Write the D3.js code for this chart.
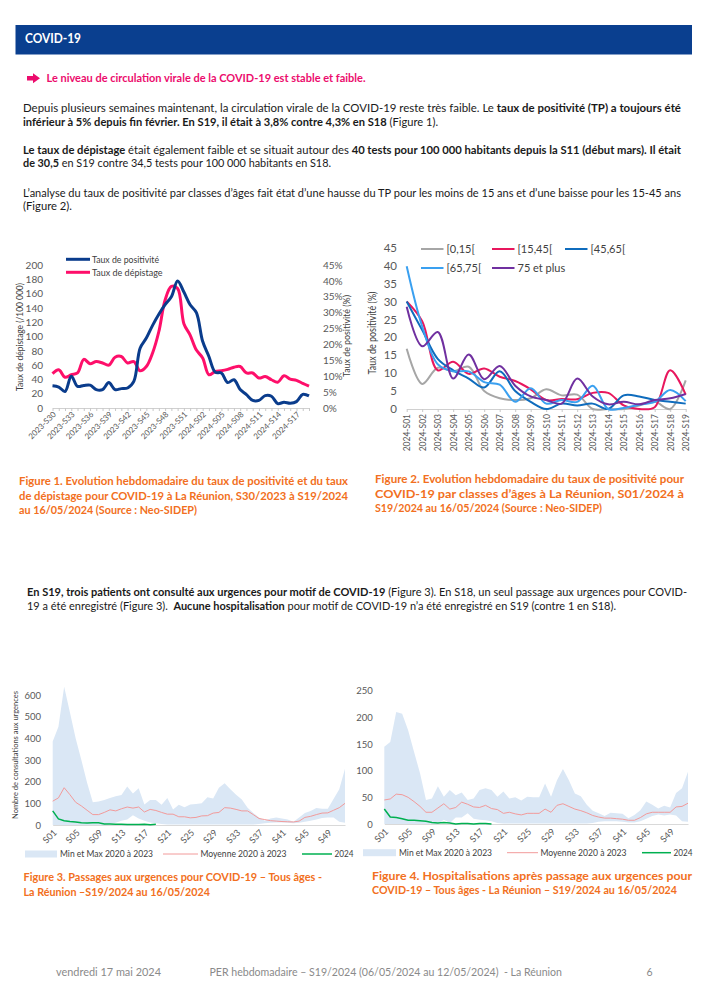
<!DOCTYPE html>
<html>
<head>
<meta charset="utf-8">
<script src="https://cdn.jsdelivr.net/npm/d3@7"></script>
<style>
body { margin: 0; background: #fff; }
svg { display: block; font-family: Lato, "Open Sans", sans-serif; }
</style>
</head>
<body>
<script>
var W = 706, H = 999;

// Figure 1 : taux de positivité (%) et taux de dépistage (/100 000)
var weeks1 = ["2023-S30","2023-S31","2023-S32","2023-S33","2023-S34","2023-S35","2023-S36","2023-S37","2023-S38","2023-S39",
  "2023-S40","2023-S41","2023-S42","2023-S43","2023-S44","2023-S45","2023-S46","2023-S47","2023-S48","2023-S49",
  "2023-S50","2023-S51","2023-S52","2024-S01","2024-S02","2024-S03","2024-S04","2024-S05","2024-S06","2024-S07",
  "2024-S08","2024-S09","2024-S10","2024-S11","2024-S12","2024-S13","2024-S14","2024-S15","2024-S16","2024-S17",
  "2024-S18","2024-S19"];
var tauxPositivite = [7.0,6.6,5.2,10.0,6.8,7.1,7.2,5.8,5.8,8.0,5.8,6.1,6.3,8.4,18.8,22,26,29.5,32.5,35,40,36.5,32.5,
  30,21,16.2,11.3,11,8,8.9,5.8,4.2,2.4,2.4,3.9,3.7,1.4,1.8,1.5,2.0,4.3,3.8];
var tauxDepistage = [48,53.5,43,46.5,49,68,62,65,63,60,71,72,63,65,52,58,77,107,151,170,167,118,102,
  81,70,46.5,51,52,54,57,58,49,49,42,44,39.5,36,45,40.5,38.6,34.5,30.5];
var depTicks = [0,20,40,60,80,100,120,140,160,180,200];
var posTicks = [0,5,10,15,20,25,30,35,40,45];

// Figure 2 : taux de positivité par classe d'âge
var weeks2 = ["2024-S01","2024-S02","2024-S03","2024-S04","2024-S05","2024-S06","2024-S07","2024-S08","2024-S09","2024-S10",
  "2024-S11","2024-S12","2024-S13","2024-S14","2024-S15","2024-S16","2024-S17","2024-S18","2024-S19"];
var ageGroups = ["[0,15[","[15,45[","[45,65[","[65,75[","75 et plus"];
var tp0_15 = [16.8,7,11.5,10.5,11.8,5,3,2.5,3,5.5,3.8,4,0,0,0,1,2,0,8];
var tp15_45 = [30,24.5,10.8,13.2,9.8,11.3,9,7.8,5.5,2.5,2.8,2.7,4.5,4.5,1,0,0.5,10.8,4];
var tp45_65 = [30,22,14,10.8,8.5,6,10.5,5,2,0,1.5,1,1.5,0,3.8,3.5,2.5,2,1.5];
var tp65_75 = [39.8,23,12.5,10.5,10.5,7.5,6.8,2,5.8,1.5,2.5,2,6.5,0,0.3,1.2,2,5.3,2.2];
var tp75plus = [28.5,17.5,21.5,8.5,15.2,8.3,12,6.5,3.5,2.5,1.5,8.5,3.5,1.3,2,1.3,2.5,3,4.2];
var ageTicks = [0,5,10,15,20,25,30,35,40,45];

// Figures 3 et 4 : passages et hospitalisations
var weeksYear = ["S01","S02","S03","S04","S05","S06","S07","S08","S09","S10","S11","S12","S13","S14","S15","S16","S17","S18",
  "S19","S20","S21","S22","S23","S24","S25","S26","S27","S28","S29","S30","S31","S32","S33","S34","S35","S36","S37","S38",
  "S39","S40","S41","S42","S43","S44","S45","S46","S47","S48","S49","S50","S51","S52"];
var urgMax = [385,454,638,520,400,300,195,105,108,115,125,133,138,178,145,170,95,115,115,93,
  125,72,93,82,95,97,100,128,122,172,193,165,140,118,80,55,35,20,30,35,30,25,15,35,55,65,78,75,75,120,165,260];
var urgMin = [0,0,0,0,0,0,0,0,0,0,5,10,20,25,45,30,20,12,8,5,
  2,2,2,2,2,2,2,2,2,2,2,2,2,2,2,2,5,8,10,12,12,10,8,10,15,20,25,32,35,35,15,10];
var urgMoy = [110,125,172,140,105,88,68,48,48,58,70,65,75,83,78,83,60,72,67,58,
  50,50,38,38,33,35,42,43,55,58,80,78,72,65,65,48,30,25,20,18,16,15,14,18,35,40,48,55,56,68,80,100];
var urg2024 = [65,28,20,16,14,10,9,10,10,5,5,3,3,2,2,2,3,1,3];
var urgTicks = [0,100,200,300,400,500,600];

var hospMax = [145,154,210,207,176,135,95,45,48,71,51,64,54,59,45,48,64,67,64,51,
  61,48,50,44,51,50,50,76,51,82,103,82,57,52,36,25,20,15,21,20,19,11,17,26,42,36,29,34,31,58,67,98];
var hospMin = [0,0,0,0,0,0,0,0,0,0,8,2,12,12,20,10,8,7,5,2,
  1,1,1,1,1,1,1,1,1,1,1,1,1,1,1,2,4,5,5,5,4,3,3,5,10,15,18,16,18,16,5,4];
var hospMoy = [45,47,56,55,50,42,33,22,22,30,38,28,31,41,37,32,31,35,29,27,
  20,22,19,17,20,20,20,28,22,35,38,33,28,25,21,16,13,11,11,10,9,7,7,12,19,22,22,22,22,32,33,39];
var hosp2024 = [28,13,12,10,7,7,6,5,3,2,3,2,0,1,1,0,1,1,0];
var hospTicks = [0,50,100,150,200,250];

var svg = d3.select("body").append("svg").attr("width", W).attr("height", H);
svg.append("rect").attr("width", W).attr("height", H).attr("fill", "#fff");

var ink = "#1a1a1a", orange = "#f26f21", axisGrey = "#595959";

function addLine(x, y, parts, o) {
  if (typeof parts === "string") parts = [[parts, !!o.bold]];
  var t = svg.append("text").attr("x", x).attr("y", y)
    .attr("font-size", o.size || 10.5).attr("fill", o.fill || ink)
    .style("white-space", "pre");
  if (o.width) t.attr("textLength", o.width).attr("lengthAdjust", "spacingAndGlyphs");
  parts.forEach(function(p) {
    t.append("tspan").attr("font-weight", p[1] ? "bold" : "normal").text(p[0]);
  });
  return t;
}

function vText(x, y, txt, size, len) {
  svg.append("text").attr("transform", "translate(" + x + "," + y + ") rotate(-90)")
    .attr("text-anchor", "middle").attr("font-size", size).attr("fill", "#404040")
    .attr("textLength", len).attr("lengthAdjust", "spacingAndGlyphs").text(txt);
}

// ---- header and texts
svg.append("rect").attr("x", 15.5).attr("y", 25).attr("width", 676.5).attr("height", 29.5).attr("fill", "#0a3f8f");
addLine(25, 42.5, "COVID-19", {bold: true, size: 12.5, fill: "#fff", width: 56});

svg.append("path").attr("d", "M27,76 H33 V73.3 L40,78.3 L33,83.3 V80.6 H27 Z").attr("fill", "#ec0c6d");
addLine(46.5, 82, "Le niveau de circulation virale de la COVID-19 est stable et faible.", {bold: true, fill: "#ec0c6d", width: 319});

addLine(23, 112, [["Depuis plusieurs semaines maintenant, la circulation virale de la COVID-19 reste très faible. Le ", false],
  ["taux de positivité (TP) a toujours été", true]], {width: 658});
addLine(23, 125.5, [["inférieur à 5% depuis fin février. En S19, il était à 3,8% contre 4,3% en S18", true],
  [" (Figure 1).", false]], {width: 415});
addLine(23, 153.5, [["Le taux de dépistage", true], [" était également faible et se situait autour des ", false],
  ["40 tests pour 100 000 habitants depuis la S11 (début mars). Il était", true]], {width: 658});
addLine(23, 167, [["de 30,5", true], [" en S19 contre 34,5 tests pour 100 000 habitants en S18.", false]], {width: 308});
addLine(23, 196.5, "L’analyse du taux de positivité par classes d’âges fait état d’une hausse du TP pour les moins de 15 ans et d’une baisse pour les 15-45 ans", {width: 658});
addLine(23, 210, "(Figure 2).", {width: 49});

var capO = {bold: true, fill: orange, size: 10.5};
addLine(19, 485, "Figure 1. Evolution hebdomadaire du taux de positivité et du taux", Object.assign({width: 329}, capO));
addLine(19, 499.5, "de dépistage pour COVID-19 à La Réunion, S30/2023 à S19/2024", Object.assign({width: 329}, capO));
addLine(19, 514, "au 16/05/2024 (Source : Neo-SIDEP)", Object.assign({width: 178}, capO));

addLine(375, 483, "Figure 2. Evolution hebdomadaire du taux de positivité pour", Object.assign({width: 309}, capO));
addLine(375, 497.5, "COVID-19 par classes d’âges à La Réunion, S01/2024 à", Object.assign({width: 309}, capO));
addLine(375, 512, "S19/2024 au 16/05/2024 (Source : Neo-SIDEP)", Object.assign({width: 227}, capO));

addLine(27, 596, [["En S19, trois patients ont consulté aux urgences pour motif de COVID-19", true],
  [" (Figure 3). En S18, un seul passage aux urgences pour COVID-", false]], {width: 660});
addLine(27, 609.5, [["19 a été enregistré (Figure 3).  ", false], ["Aucune hospitalisation", true],
  [" pour motif de COVID-19 n’a été enregistré en S19 (contre 1 en S18).", false]], {width: 589});

addLine(23.5, 880.5, "Figure 3. Passages aux urgences pour COVID-19 – Tous âges -", Object.assign({width: 298.5}, capO));
addLine(23.5, 895.5, "La Réunion –S19/2024 au 16/05/2024", Object.assign({width: 186.5}, capO));
addLine(372, 879.5, "Figure 4. Hospitalisations après passage aux urgences pour", Object.assign({width: 320}, capO));
addLine(372, 894, "COVID-19 – Tous âges - La Réunion – S19/2024 au 16/05/2024", Object.assign({width: 305}, capO));

addLine(56, 976, "vendredi 17 mai 2024", {fill: "#8a8a8a", size: 10.5, width: 105});
addLine(209.5, 976, "PER hebdomadaire – S19/2024 (06/05/2024 au 12/05/2024)  - La Réunion", {fill: "#8a8a8a", size: 10.5, width: 352.5});
addLine(646.5, 976, "6", {fill: "#8a8a8a", size: 10.5});

function styleAxis(g, size) {
  g.attr("font-family", "Lato, sans-serif").attr("font-size", size);
  g.selectAll("text").attr("fill", axisGrey);
  g.selectAll(".tick line").attr("stroke", "#c8c8c8");
  g.select(".domain").attr("stroke", "#d0d0d0");
}

// ---- Figure 1
var x1 = d3.scalePoint().domain(weeks1).range([52.5, 309]);
var yDep = d3.scaleLinear().domain([0, 200]).range([408, 265]);
var yPos = d3.scaleLinear().domain([0, 45]).range([408, 265]);

var ax1 = svg.append("g").attr("transform", "translate(0,408)")
  .call(d3.axisBottom(x1).tickSize(3).tickSizeOuter(0).tickFormat(function(d, i) { return i % 3 === 0 ? d : ""; }));
styleAxis(ax1, 8);
ax1.selectAll("text").attr("x", 0).attr("y", 0).attr("dy", "0.35em")
  .attr("transform", "translate(1.5,5) rotate(-45)").style("text-anchor", "end");

var ayL1 = svg.append("g").attr("transform", "translate(46,0)")
  .call(d3.axisLeft(yDep).tickValues(depTicks).tickSize(0).tickPadding(3));
styleAxis(ayL1, 10); ayL1.select(".domain").remove();
var ayR1 = svg.append("g").attr("transform", "translate(320,0)")
  .call(d3.axisRight(yPos).tickValues(posTicks).tickSize(0).tickPadding(3).tickFormat(function(d) { return d + "%"; }));
styleAxis(ayR1, 10); ayR1.select(".domain").remove();

vText(23, 337, "Taux de dépistage (/100 000)", 9.5, 108);
vText(349.5, 336, "Taux de positivité (%)", 9.5, 82);

var smooth = d3.curveCatmullRom.alpha(0.5);
svg.append("path").datum(tauxDepistage).attr("fill", "none").attr("stroke", "#fe0f6a").attr("stroke-width", 3)
  .attr("d", d3.line().x(function(d, i) { return x1(weeks1[i]); }).y(function(d) { return yDep(d); }).curve(smooth));
svg.append("path").datum(tauxPositivite).attr("fill", "none").attr("stroke", "#0a3c8c").attr("stroke-width", 3)
  .attr("d", d3.line().x(function(d, i) { return x1(weeks1[i]); }).y(function(d) { return yPos(d); }).curve(smooth));

[["Taux de positivité", "#0a3c8c", 259.3, 67], ["Taux de dépistage", "#fe0f6a", 272.3, 70.5]].forEach(function(l) {
  svg.append("line").attr("x1", 66).attr("x2", 90).attr("y1", l[2]).attr("y2", l[2]).attr("stroke", l[1]).attr("stroke-width", 3);
  addLine(92, l[2] + 3.2, l[0], {size: 9.5, fill: "#404040", width: l[3]});
});

// ---- Figure 2
var x2 = d3.scalePoint().domain(weeks2).range([406.7, 685.7]);
var y2 = d3.scaleLinear().domain([0, 45]).range([409, 247.7]);
var ax2 = svg.append("g").attr("transform", "translate(0,409)")
  .call(d3.axisBottom(x2).tickSize(3).tickSizeOuter(0));
styleAxis(ax2, 8.5);
ax2.selectAll("text").attr("x", 0).attr("y", 0).attr("dy", "0.35em")
  .attr("transform", "translate(0,5) rotate(-90)").style("text-anchor", "end");
var ay2 = svg.append("g").attr("transform", "translate(400,0)")
  .call(d3.axisLeft(y2).tickValues(ageTicks).tickSize(0).tickPadding(3));
styleAxis(ay2, 11.5); ay2.select(".domain").remove();
vText(376, 333, "Taux de positivité (%)", 10.5, 83);

var ageSeries = [tp0_15, tp15_45, tp45_65, tp65_75, tp75plus];
var ageColors = ["#a6a6a6", "#e8175d", "#0f6cbd", "#3aa0f0", "#7030a0"];
var line2 = d3.line().x(function(d, i) { return x2(weeks2[i]); }).y(function(d) { return y2(d); }).curve(smooth);
ageSeries.forEach(function(s, k) {
  svg.append("path").datum(s).attr("fill", "none").attr("stroke", ageColors[k]).attr("stroke-width", 2).attr("d", line2);
});
var legPos2 = [[421, 249], [492, 249], [565, 249], [421, 268], [492, 268]];
ageGroups.forEach(function(name, k) {
  var p = legPos2[k];
  svg.append("line").attr("x1", p[0]).attr("x2", p[0] + 22.5).attr("y1", p[1]).attr("y2", p[1])
    .attr("stroke", ageColors[k]).attr("stroke-width", 2);
  addLine(p[0] + 25.5, p[1] + 3.8, name, {size: 11, fill: "#404040"});
});

// ---- Figures 3 and 4
function drawUrg(o) {
  var x = d3.scalePoint().domain(weeksYear).range(o.xr);
  var y = d3.scaleLinear().domain(o.yd).range(o.yr);
  svg.append("path").datum(weeksYear).attr("fill", "#dae7f5")
    .attr("d", d3.area().x(function(d) { return x(d); })
      .y0(function(d, i) { return y(o.min[i]); }).y1(function(d, i) { return y(o.max[i]); }));
  var ax = svg.append("g").attr("transform", "translate(0," + o.yr[0] + ")")
    .call(d3.axisBottom(x).tickSize(0).tickSizeOuter(0).tickFormat(function(d, i) { return i % 4 === 0 ? d : ""; }));
  styleAxis(ax, 9);
  ax.select(".domain").attr("stroke", "#d9d9d9");
  ax.selectAll("text").attr("x", 0).attr("y", 0).attr("dy", "0.35em")
    .attr("transform", "translate(2,6) rotate(-45)").style("text-anchor", "end");
  var ay = svg.append("g").attr("transform", "translate(" + (o.labelX + 3) + ",0)")
    .call(d3.axisLeft(y).tickValues(o.ticks).tickSize(0).tickPadding(3));
  styleAxis(ay, 9.5); ay.select(".domain").remove();

  var ln = d3.line().x(function(d, i) { return x(weeksYear[i]); }).y(function(d) { return y(d); });
  svg.append("path").datum(o.moy).attr("fill", "none").attr("stroke", "#f29a9a").attr("stroke-width", 1).attr("d", ln);
  svg.append("path").datum(o.cur).attr("fill", "none").attr("stroke", "#00b050").attr("stroke-width", 1.5).attr("d", ln);

  var L = o.leg;
  svg.append("rect").attr("x", L.band[0]).attr("y", L.y - 3.5).attr("width", L.band[1] - L.band[0]).attr("height", 7).attr("fill", "#dae7f5");
  addLine(L.band[1] + 3, L.y + 3.3, "Min et Max 2020 à 2023", {size: 9.5, fill: "#404040", width: 93});
  svg.append("line").attr("x1", L.moy[0]).attr("x2", L.moy[1]).attr("y1", L.y).attr("y2", L.y).attr("stroke", "#f29a9a").attr("stroke-width", 1);
  addLine(L.moy[1] + 2.5, L.y + 3.3, "Moyenne 2020 à 2023", {size: 9.5, fill: "#404040", width: 86});
  svg.append("line").attr("x1", L.cur[0]).attr("x2", L.cur[1]).attr("y1", L.y).attr("y2", L.y).attr("stroke", "#00b050").attr("stroke-width", 1.5);
  addLine(L.cur[1] + 2.5, L.y + 3.3, "2024", {size: 9.5, fill: "#404040", width: 19});
}

drawUrg({xr: [52.7, 345], yd: [0, 600], yr: [825, 695], ticks: urgTicks, labelX: 41,
  min: urgMin, max: urgMax, moy: urgMoy, cur: urg2024,
  leg: {y: 854, band: [25, 57], moy: [163, 198], cur: [302, 332]}});
vText(18.3, 755, "Nombre de consultations aux urgences", 7.5, 128);

drawUrg({xr: [384.3, 688], yd: [0, 250], yr: [824, 690.7], ticks: hospTicks, labelX: 372.7,
  min: hospMin, max: hospMax, moy: hospMoy, cur: hosp2024,
  leg: {y: 852.7, band: [363, 396], moy: [507, 538], cur: [642, 671]}});
</script>
</body>
</html>
